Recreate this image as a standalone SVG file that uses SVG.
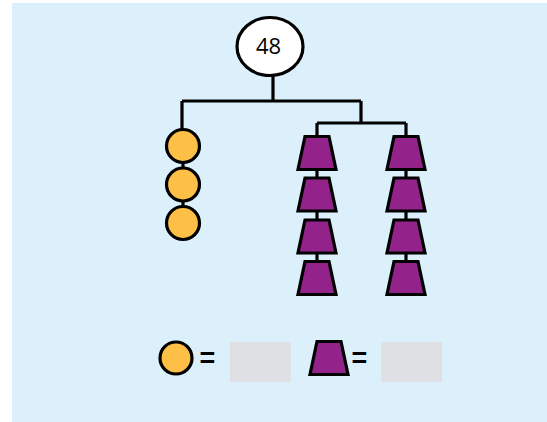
<svg xmlns="http://www.w3.org/2000/svg" width="547" height="422" viewBox="0 0 547 422">
<style>
.ln{stroke:#000;stroke-width:3.2;fill:none}
.c{fill:#fdbf45;stroke:#000;stroke-width:3.2}
.t{fill:#93238a;stroke:#000;stroke-width:3.2;stroke-linejoin:miter}
.box{fill:#dfe0e3}
.eq{font-family:"Liberation Sans",Arial,sans-serif;font-weight:bold;font-size:27px;fill:#000}
</style>
<defs>
<polygon id="trap" points="-12,0 12,0 19,33 -19,33" class="t"/>
</defs>
<rect x="12" y="3" width="535" height="419" fill="#dcf0fc"/>
<g id="connectors">
<path class="ln" d="M273,76 V101 M182,101 H361 M182,101 V130 M361,101 V123 M317,123 H406 M317,123 V137 M406,123 V137"/>
<path class="ln" d="M183,146 V223"/>
<path class="ln" d="M317,137 V295 M406,137 V295"/>
</g>
<g id="root">
<ellipse cx="270" cy="46.5" rx="33" ry="29" fill="#fff" stroke="#000" stroke-width="3.2"/>
<text x="268.5" y="54" text-anchor="middle" font-family="'Open Sans',sans-serif" font-weight="500" font-size="22">48</text>
</g>
<g id="circles">
<circle class="c" cx="183" cy="146" r="16.5"/>
<circle class="c" cx="183" cy="184.5" r="16.5"/>
<circle class="c" cx="183" cy="223" r="16.5"/>
</g>
<g id="trapezoids-left">
<use href="#trap" x="317" y="136.5"/>
<use href="#trap" x="317" y="178"/>
<use href="#trap" x="317" y="220"/>
<use href="#trap" x="317" y="261.5"/>
</g>
<g id="trapezoids-right">
<use href="#trap" x="406" y="136.5"/>
<use href="#trap" x="406" y="178"/>
<use href="#trap" x="406" y="220"/>
<use href="#trap" x="406" y="261.5"/>
</g>
<g id="legend-circle">
<circle class="c" cx="176" cy="358" r="16"/>
<text class="eq" x="207.5" y="366.5" text-anchor="middle">=</text>
<rect class="box" x="230" y="342" width="61" height="40"/>
</g>
<g id="legend-trap">
<use href="#trap" x="329" y="341.5"/>
<text class="eq" x="359.5" y="366.5" text-anchor="middle">=</text>
<rect class="box" x="381" y="342" width="61" height="40"/>
</g>
</svg>
